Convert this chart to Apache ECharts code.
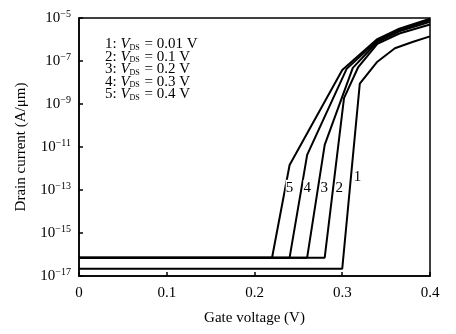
<!DOCTYPE html>
<html><head><meta charset="utf-8">
<script src="https://cdn.jsdelivr.net/npm/echarts@6/dist/echarts.min.js"></script>
<style>html,body{margin:0;padding:0;background:#fff}#c{width:456px;height:334px}</style>
</head><body><div id="c"></div>
<script>
// Gate voltage (V) and drain current (A/um) for each V_DS
const gateV1 = [0, 0.30, 0.32, 0.34, 0.36, 0.38, 0.40];
const current1 = [2.2e-17, 2.2e-17, 8.9e-9, 9.3e-8, 3.9e-7, 7.6e-7, 1.4e-6];
const gateV2 = [0, 0.28, 0.302, 0.318, 0.34, 0.365, 0.40];
const current2 = [7.1e-17, 7.1e-17, 1.86e-9, 5.0e-8, 6.3e-7, 1.9e-6, 5.0e-6];
const gateV3 = [0, 0.26, 0.28, 0.312, 0.34, 0.365, 0.40];
const current3 = [7.1e-17, 7.1e-17, 1.26e-11, 4.8e-8, 7.6e-7, 2.4e-6, 6.6e-6];
const gateV4 = [0, 0.24, 0.26, 0.305, 0.34, 0.365, 0.40];
const current4 = [7.1e-17, 7.1e-17, 4.3e-12, 4.3e-8, 8.9e-7, 2.8e-6, 7.9e-6];
const gateV5 = [0, 0.22, 0.24, 0.30, 0.34, 0.365, 0.40];
const current5 = [7.1e-17, 7.1e-17, 1.45e-12, 3.8e-8, 1.05e-6, 3.2e-6, 9.3e-6];

const curveNames = ['1', '2', '3', '4', '5'];
const vdsValues = ['0.01', '0.1', '0.2', '0.3', '0.4'];
// curve label anchors (data space)
const labelGateV = [0.3174, 0.2966, 0.2795, 0.260, 0.2398];
const labelCurrent = [4.2e-13, 1.2e-13, 1.2e-13, 1.2e-13, 1.2e-13];

const yTickExponents = [-17, -15, -13, -11, -9, -7, -5];
const xTicks = [0, 0.1, 0.2, 0.3, 0.4];

const FONT = 'Liberation Serif';
const allV = [gateV1, gateV2, gateV3, gateV4, gateV5];
const allI = [current1, current2, current3, current4, current5];

const chart = echarts.init(document.getElementById('c'), null, {renderer: 'canvas'});
const series = allV.map((vs, k) => ({
  name: curveNames[k],
  type: 'line',
  data: vs.map((v, i) => [v, Math.log10(allI[k][i])]),
  showSymbol: false,
  symbol: 'none',
  lineStyle: {color: '#000', width: 2},
  animation: false,
  z: 3
}));

chart.setOption({
  animation: false,
  backgroundColor: '#fff',
  grid: {left: 79, right: 26, top: 18, bottom: 58, show: true, borderColor: '#000', borderWidth: 1.5},
  xAxis: {
    type: 'value', min: 0, max: 0.4, interval: 0.1,
    name: 'Gate voltage (V)', nameLocation: 'middle', nameGap: 35,
    nameTextStyle: {fontFamily: FONT, fontSize: 15, color: '#000'},
    axisLine: {lineStyle: {color: '#000', width: 1.5}},
    axisTick: {inside: true, length: 4, lineStyle: {color: '#000', width: 1.5}},
    axisLabel: {fontFamily: FONT, fontSize: 15, color: '#000', margin: 10,
      formatter: v => { const t = xTicks.find(x => Math.abs(x - v) < 1e-9); return t === 0 ? '0' : String(+v.toFixed(1)); }},
    splitLine: {show: false}
  },
  yAxis: {
    type: 'value', min: -17, max: -5, interval: 2,
    name: 'Drain current (A/\u03bcm)', nameLocation: 'middle', nameGap: 50,
    nameTextStyle: {fontFamily: FONT, fontSize: 15, color: '#000'},
    axisLine: {lineStyle: {color: '#000', width: 1.5}},
    axisTick: {inside: true, length: 4, lineStyle: {color: '#000', width: 1.5}},
    axisLabel: {
      fontFamily: FONT, fontSize: 15, color: '#000', margin: 8,
      formatter: v => '10{sup|\u2212' + Math.abs(Math.round(v)) + '}',
      rich: {sup: {fontFamily: FONT, fontSize: 10, color: '#000', verticalAlign: 'top', padding: [0, 0, 8, 0]}}
    },
    splitLine: {show: false}
  },
  series: series
});

const graphics = [];
vdsValues.forEach((vd, k) => {
  graphics.push({
    type: 'text', left: 105, top: 37 + k * 12.4, z: 10,
    style: {
      text: curveNames[k] + ': {i|V}{s|DS} = ' + vd + ' V',
      fontFamily: FONT, fontSize: 15, fill: '#000',
      rich: {
        i: {fontFamily: FONT, fontSize: 15, fontStyle: 'italic', fill: '#000'},
        s: {fontFamily: FONT, fontSize: 8, fill: '#000', verticalAlign: 'bottom', padding: [7, 1, 0, 0]}
      }
    }
  });
});
curveNames.forEach((n, k) => {
  const p = chart.convertToPixel({gridIndex: 0}, [labelGateV[k], Math.log10(labelCurrent[k])]);
  graphics.push({
    type: 'text', x: p[0], y: p[1], z: 10,
    style: {text: n, fontFamily: FONT, fontSize: 15, fill: '#000', align: 'center', verticalAlign: 'middle',
      backgroundColor: '#fff', padding: [1, 0, 1, 0]}
  });
});
chart.setOption({graphic: graphics});
</script></body></html>
